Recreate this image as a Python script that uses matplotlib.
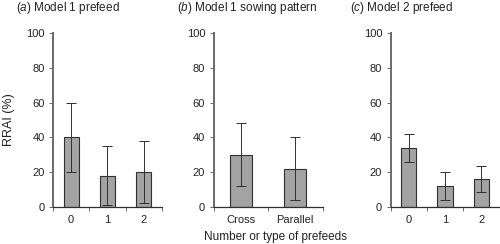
"""Bar chart of RRAI for the prefeed models."""

import matplotlib.pyplot as plt
import numpy as np

plt.rcParams["font.family"] = ["Liberation Sans", "DejaVu Sans"]
plt.rcParams["mathtext.fontset"] = "custom"
plt.rcParams["mathtext.rm"] = "Liberation Sans"
plt.rcParams["mathtext.it"] = "Liberation Sans:italic"

prefeed_labels = ["0", "1", "2"]
pattern_labels = ["Cross", "Parallel"]

model1_prefeed = [40, 18, 20]
model1_prefeed_err = [20, 17, 18]
model1_pattern = [30, 22]
model1_pattern_err = [18, 18]
model2_prefeed = [34, 12, 16]
model2_prefeed_err = [8, 8, 7.5]

panels = [
    ("a", "Model 1 prefeed", prefeed_labels, model1_prefeed, model1_prefeed_err),
    ("b", "Model 1 sowing pattern", pattern_labels, model1_pattern, model1_pattern_err),
    ("c", "Model 2 prefeed", prefeed_labels, model2_prefeed, model2_prefeed_err),
]

axes_left = [0.106, 0.427, 0.781]
title_left = [0.032, 0.354, 0.700]
axis_color = "#6a6a6a"
text_color = "#222222"

fig = plt.figure(figsize=(5.0, 2.44), dpi=100)

for (letter, name, labels, values, errors), left, tx in zip(panels, axes_left, title_left):
    ax = fig.add_axes([left, 0.152, 0.218, 0.713])
    x = np.arange(len(labels))
    width = 0.42 if len(labels) == 3 else 0.4
    ax.bar(x, values, width=width, color="#a3a3a3", edgecolor="#303030", linewidth=0.8)
    ax.errorbar(x, values, yerr=errors, fmt="none", ecolor="#303030",
                elinewidth=0.7, capsize=3.5, capthick=0.7)

    ax.set_xlim(-0.5, len(labels) - 0.5)
    ax.set_ylim(0, 100)
    ax.set_yticks([0, 20, 40, 60, 80, 100])
    ax.set_xticks(x)
    ax.set_xticklabels(labels)
    ax.set_xticks(np.arange(len(labels) + 1) - 0.5, minor=True)
    ax.tick_params(axis="x", which="major", length=0, pad=6)
    ax.tick_params(axis="x", which="minor", length=3, width=0.7, color=axis_color)
    ax.tick_params(axis="y", length=3, width=0.7, color=axis_color, pad=3)
    ax.tick_params(labelsize=8, labelcolor=text_color)

    for side in ["top", "right"]:
        ax.spines[side].set_visible(False)
    ax.spines["left"].set_color(axis_color)
    ax.spines["left"].set_linewidth(1.4)
    ax.spines["bottom"].set_color("#303030")
    ax.spines["bottom"].set_linewidth(0.9)

    fig.text(tx, 0.967, rf"($\mathit{{{letter}}}$) {name}", fontsize=8.5,
             ha="left", va="center", color=text_color)

fig.text(0.018, 0.508, "RRAI (%)", rotation=90, fontsize=9, ha="center",
         va="center", color=text_color)
fig.text(0.55, 0.029, "Number or type of prefeeds", fontsize=8.5, ha="center",
         va="center", color=text_color)

fig.savefig("out.png", dpi=100)
